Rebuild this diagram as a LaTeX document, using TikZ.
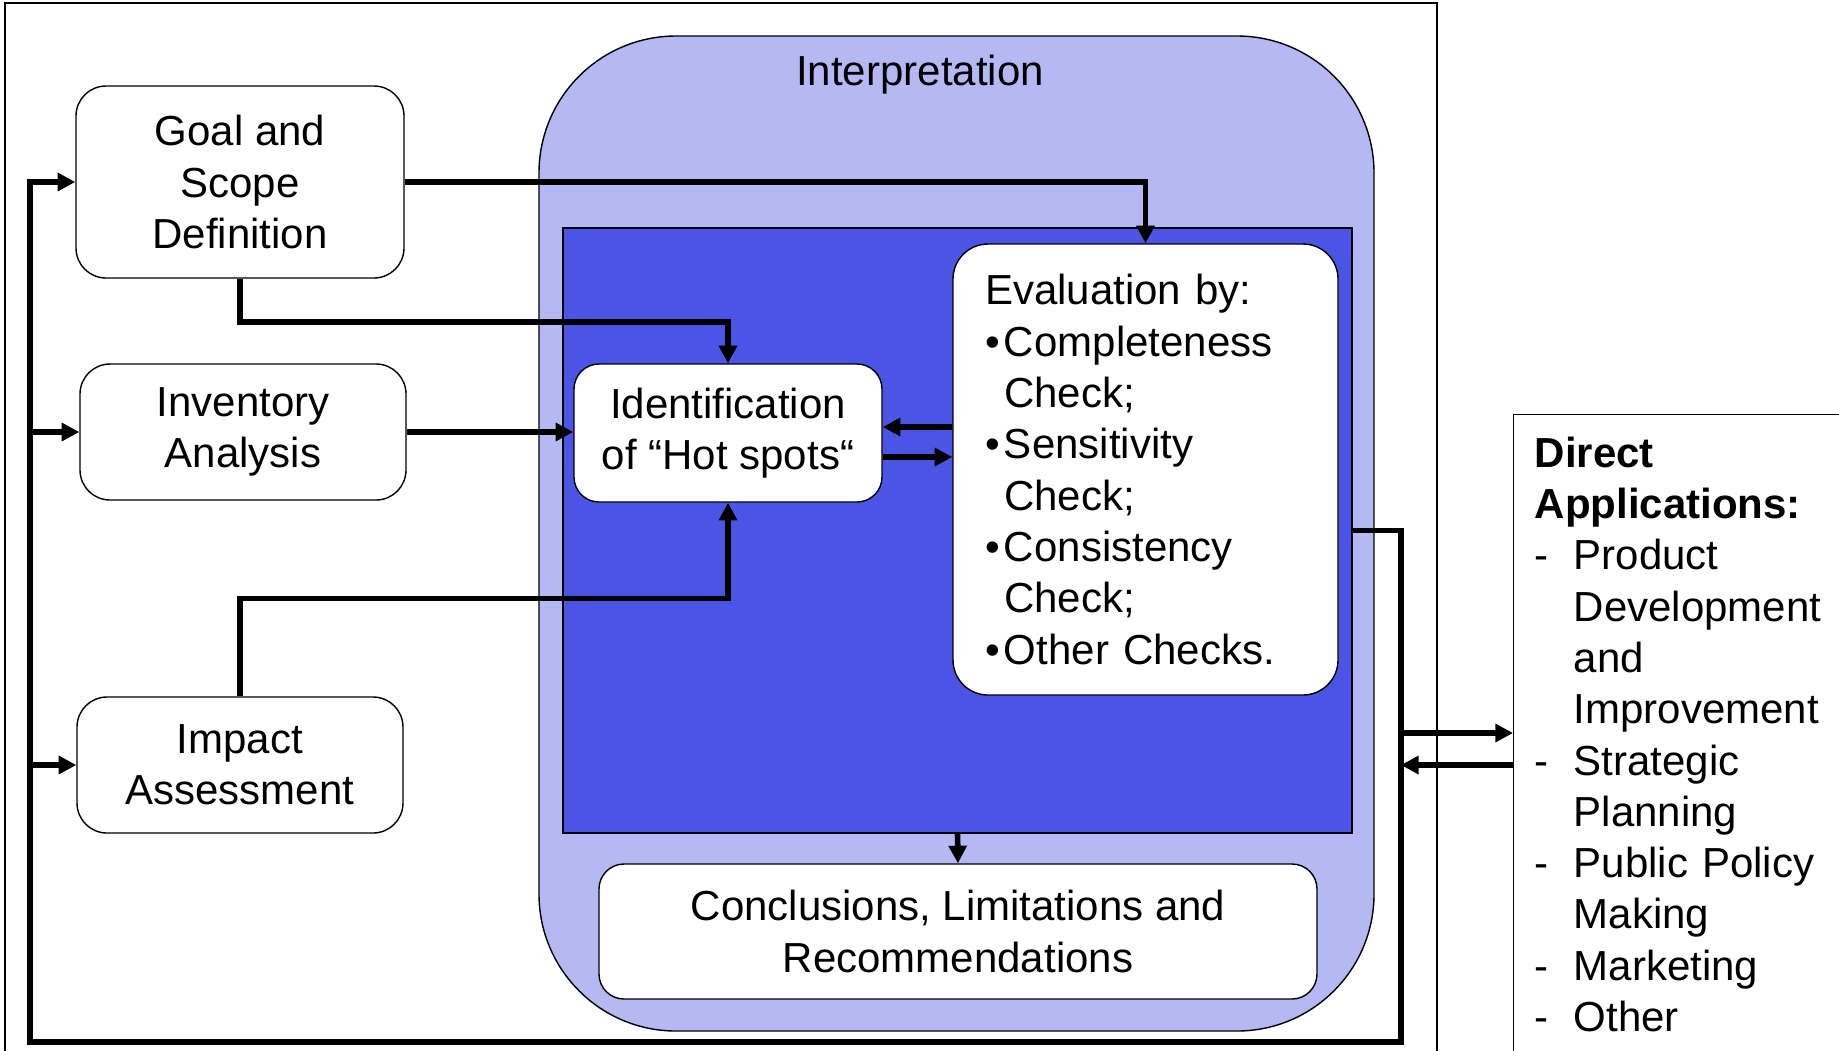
\documentclass[tikz,border=0pt]{standalone}
\usepackage{fontspec}
\setmainfont{Liberation Sans}
\usepackage{xcolor}
\usetikzlibrary{arrows.meta}
\definecolor{vpaleblue}{HTML}{B4B9F4}
\definecolor{vroyalblue}{HTML}{4A55E6}

\tikzset{
	every node/.style={font=\fontsize{11.95}{14.6}\selectfont},
	stagebox/.style={draw=black, line width=0.4pt, fill=white, rounded corners=0.3cm, align=center, inner sep=0pt},
	flow/.style={line width=1.6pt, -{Triangle[length=5pt,width=5pt]}},
}

\begin{document}
\begin{tikzpicture}
		\useasboundingbox (0,0) rectangle (18.39,-10.5);
		\clip (0,0) rectangle (18.39,-10.5);
		% frame and application box
		\draw[line width=0.6pt] (0.05,-0.03) rectangle (14.37,-11);
		\node[draw, line width=0.4pt, minimum width=4cm, minimum height=7cm, anchor=north west, inner sep=0pt] (apps) at (15.13,-4.14) {};
		\node[anchor=north west, inner sep=0pt, text width=3.6cm, align=left] (appstext) at (15.34,-4.36) {\textbf{Direct}\\
			\textbf{Applications:}\\
			\makebox[0.39cm][l]{-}Product\\
			\hspace*{0.39cm}Development\\
			\hspace*{0.39cm}and\\
			\hspace*{0.39cm}Improvement\\
			\makebox[0.39cm][l]{-}Strategic\\
			\hspace*{0.39cm}Planning\\
			\makebox[0.39cm][l]{-}Public Policy\\
			\hspace*{0.39cm}Making\\
			\makebox[0.39cm][l]{-}Marketing\\
			\makebox[0.39cm][l]{-}Other};
		% interpretation phase
		\node[draw, line width=0.4pt, fill=vpaleblue, rounded corners=1.37cm, minimum width=8.35cm, minimum height=9.95cm, inner sep=0pt] (interp) at (9.565,-5.335) {};
		\node (interplabel) at (9.20,-0.75) {Interpretation};
		\node[draw, line width=0.4pt, fill=vroyalblue, minimum width=7.89cm, minimum height=6.05cm, inner sep=0pt] (core) at (9.575,-5.305) {};
		% stages
		\node[stagebox, minimum width=3.28cm, minimum height=1.92cm] (goal) at (2.40,-1.82) {Goal and\\Scope\\Definition};
		\node[stagebox, minimum width=3.26cm, minimum height=1.36cm] (inv) at (2.43,-4.32) {Inventory\\Analysis};
		\node[stagebox, minimum width=3.26cm, minimum height=1.36cm] (imp) at (2.40,-7.65) {Impact\\Assessment};
		\node[stagebox, rounded corners=0.25cm, minimum width=3.08cm, minimum height=1.38cm] (ident) at (7.28,-4.33) {Identification\\of “Hot spots“};
		\node[stagebox, rounded corners=0.35cm, minimum width=3.85cm, minimum height=4.51cm, text width=3.21cm, align=left] (eval) at (11.455,-4.695) {Evaluation by:\\
			\makebox[0.19cm][l]{\textbullet}Completeness\\
			\hspace*{0.19cm}Check;\\
			\makebox[0.19cm][l]{\textbullet}Sensitivity\\
			\hspace*{0.19cm}Check;\\
			\makebox[0.19cm][l]{\textbullet}Consistency\\
			\hspace*{0.19cm}Check;\\
			\makebox[0.19cm][l]{\textbullet}Other Checks.};
		\node[stagebox, rounded corners=0.25cm, minimum width=7.18cm, minimum height=1.35cm] (concl) at (9.58,-9.315) {Conclusions, Limitations and\\Recommendations};
		% connectors
		\coordinate (rb) at (14.01,-10.42);
		\coordinate (lb) at (0.30,-10.42);
		\coordinate (a1) at (14.01,-7.33);
		\coordinate (a2) at (14.01,-7.65);
		\coordinate (e1) at ([yshift=4.25mm]eval.west);
		\coordinate (e2) at ([yshift=1.25mm]eval.west);
		\draw[flow] (core.east) -| (rb) -- (lb) |- (goal.west);
		\draw[flow] (lb |- inv.west) -- (inv.west);
		\draw[flow] (lb |- imp.west) -- (imp.west);
		\draw[flow] (a1) -- (a1 -| apps.west);
		\draw[flow] (a2 -| apps.west) -- (a2);
		\draw[flow] (goal.east) -| (eval.north);
		\draw[flow] (goal.south) -- ++(0,-0.43) -| (ident.north);
		\draw[flow] (inv.east) -- (inv.east -| ident.west);
		\draw[flow] (imp.north) -- ++(0,0.98) -| (ident.south);
		\draw[flow] (e1) -- (e1 -| ident.east);
		\draw[flow] (e2 -| ident.east) -- (e2);
		\draw[flow] (core.south) -- (concl.north);
	\end{tikzpicture}
\end{document}
